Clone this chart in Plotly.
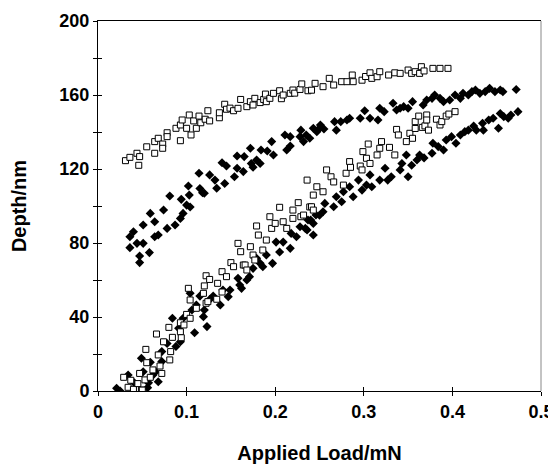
import plotly.graph_objects as go

# open squares - loading branch
sq_load_x = [0.029, 0.034, 0.037, 0.040, 0.045, 0.047, 0.049, 0.050, 0.053, 0.055, 0.054, 0.059, 0.062, 0.066,
             0.068, 0.070, 0.072, 0.074, 0.080, 0.081, 0.082, 0.084, 0.093, 0.093, 0.094, 0.097, 0.100, 0.102,
             0.104, 0.104, 0.111, 0.119, 0.120, 0.122, 0.122, 0.124, 0.126, 0.134, 0.135, 0.140, 0.140, 0.145,
             0.150, 0.153, 0.158, 0.161, 0.164, 0.166, 0.168, 0.172, 0.175, 0.177, 0.179, 0.181, 0.186, 0.190,
             0.194, 0.196, 0.200, 0.205, 0.209, 0.213, 0.220, 0.220, 0.226, 0.229, 0.232, 0.239, 0.241, 0.243,
             0.236, 0.247, 0.243, 0.254, 0.258, 0.263, 0.266, 0.277, 0.280, 0.284, 0.285, 0.296, 0.298, 0.299,
             0.303, 0.307, 0.305, 0.315, 0.318, 0.320, 0.329, 0.335, 0.337, 0.339, 0.348, 0.352, 0.355, 0.358,
             0.358, 0.362, 0.366, 0.369, 0.371, 0.371, 0.373, 0.382, 0.386, 0.388, 0.393, 0.396, 0.403]
sq_load_y = [7.4, 2, 5.8, 0.9, 4, 9.5, 0.5, 0.5, 6, 15.3, 22.5, 7.4, 11.4, 30.8,
             19.5, 13.5, 9.5, 26.6, 34.4, 16.8, 21.3, 29, 32, 36.9, 28.8, 35.7, 41.4, 55.5,
             49.2, 39.3, 44.7, 52.8, 56.8, 62.3, 47.4, 48.3, 60.3, 49.6, 58.2, 64.5, 53.5, 61.8,
             69.4, 67.2, 79.8, 75.3, 68.1, 68.1, 65.4, 78, 73.5, 70.8, 89.2, 84.3, 76.2, 81.6,
             94.2, 87.9, 90.6, 99.3, 91.5, 87.9, 97.8, 93.3, 101.8, 94.2, 95.1, 99.5, 99.6, 97.8,
             114, 110.4, 105.9, 107.7, 119.5, 115.8, 113, 111.3, 117.7, 124, 120.9, 121.6, 119.5, 129.4,
             125.8, 123, 133.5, 127.6, 131.2, 134.8, 131.7, 127.6, 141.4, 138.4, 134.8, 139.3, 136.6, 145.6,
             141.9, 148.6, 142.5, 143.3, 149.2, 146.5, 141, 146.9, 143.8, 145.6, 148.6, 149.7, 151]

# open squares - unloading branch
sq_unload_x = [0.031, 0.036, 0.044, 0.046, 0.047, 0.055, 0.064, 0.064, 0.068, 0.073, 0.073, 0.078, 0.078,
               0.088, 0.093, 0.093, 0.095, 0.100, 0.103, 0.105, 0.108, 0.111, 0.114, 0.116, 0.121, 0.124,
               0.126, 0.137, 0.137, 0.143, 0.145, 0.149, 0.153, 0.158, 0.161, 0.168, 0.172, 0.175, 0.177,
               0.183, 0.187, 0.189, 0.190, 0.194, 0.198, 0.205, 0.207, 0.209, 0.217, 0.220, 0.222, 0.228,
               0.230, 0.237, 0.241, 0.245, 0.254, 0.261, 0.266, 0.275, 0.281, 0.287, 0.288, 0.298, 0.302,
               0.307, 0.309, 0.315, 0.318, 0.328, 0.335, 0.341, 0.350, 0.354, 0.358, 0.363, 0.365, 0.368,
               0.378, 0.386, 0.395]
sq_unload_y = [124.5, 126.3, 128.5, 122, 126.7, 132, 128.5, 134.8, 136.6, 133.5, 131.2, 139.6, 137.5,
               142, 135.3, 143.8, 146.5, 142, 149.2, 138.4, 146, 142, 148.6, 145, 146.9, 151.5,
               146, 147.7, 150.4, 155, 152.3, 152.9, 151.5, 152.8, 157.6, 153.7, 156.4, 154.6, 158.2,
               155.9, 157.6, 160.5, 156.4, 158.2, 160.9, 162.3, 158, 160, 160.9, 162.7, 161, 163,
               166, 162.3, 162.6, 166.3, 164.5, 169, 165.4, 167.2, 167.2, 170.8, 167.2, 168, 170,
               172, 169, 169.9, 172.6, 170.8, 172, 171.7, 173.5, 171.7, 172.6, 171.7, 175.3, 173,
               174.4, 174.4, 174.4]

# filled diamonds - loading branch
dm_load_x = [0.021, 0.025, 0.034, 0.041, 0.051, 0.049, 0.056, 0.057, 0.059, 0.062, 0.068, 0.065, 0.072,
             0.072, 0.078, 0.084, 0.088, 0.091, 0.093, 0.096, 0.104, 0.106, 0.109, 0.111, 0.115, 0.119,
             0.120, 0.123, 0.126, 0.130, 0.138, 0.141, 0.147, 0.149, 0.158, 0.160, 0.162, 0.168, 0.171,
             0.175, 0.179, 0.183, 0.186, 0.190, 0.197, 0.201, 0.205, 0.209, 0.217, 0.218, 0.224, 0.228,
             0.236, 0.237, 0.243, 0.246, 0.234, 0.243, 0.240, 0.250, 0.254, 0.256, 0.266, 0.269, 0.275,
             0.277, 0.284, 0.288, 0.294, 0.298, 0.303, 0.307, 0.309, 0.318, 0.324, 0.327, 0.331, 0.341,
             0.343, 0.348, 0.350, 0.354, 0.360, 0.363, 0.368, 0.377, 0.378, 0.384, 0.390, 0.393, 0.399,
             0.404, 0.409, 0.414, 0.418, 0.424, 0.427, 0.434, 0.435, 0.441, 0.446, 0.452, 0.454, 0.458,
             0.463, 0.466, 0.474]
dm_load_y = [1.5, 0, 8.6, 4.4, 10.4, 17.7, 1.8, 4.4, 15.5, 8.6, 5, 10.4, 15.9,
             21.3, 25.7, 39.3, 24.1, 33.9, 26.6, 39.3, 52.8, 43.8, 31.5, 46.5, 51.3, 40.2,
             43.8, 34.8, 49.4, 51.3, 46.5, 54.6, 51, 54.6, 60.9, 57.3, 55.5, 60, 61.8,
             66.3, 71.7, 69, 67.2, 73.5, 69, 80.5, 75.1, 80.5, 77.1, 85.2, 83.4, 88.8,
             87, 92.4, 90.6, 95.1, 87.9, 84.3, 92.4, 95, 96.9, 101.4, 99.6, 105, 102.3,
             107.7, 110.4, 105, 114, 108.6, 111.3, 116.8, 110.4, 114, 120.4, 114, 115.8, 119.5,
             123, 127.6, 115.8, 122, 124.9, 127.6, 126, 128.5, 133.9, 132.1, 130.3, 135.7, 137.5,
             133.9, 138.4, 140.2, 141, 143.2, 141, 144.7, 141, 146.5, 147.4, 142, 150, 148.3,
             147.4, 149.2, 151]

# filled diamonds - unloading branch
dm_unload_x = [0.036, 0.040, 0.036, 0.044, 0.047, 0.047, 0.051, 0.051, 0.058, 0.059, 0.064, 0.064, 0.068,
               0.074, 0.078, 0.081, 0.087, 0.093, 0.094, 0.096, 0.100, 0.102, 0.103, 0.104, 0.114, 0.115,
               0.118, 0.120, 0.126, 0.132, 0.134, 0.140, 0.143, 0.145, 0.154, 0.157, 0.157, 0.164, 0.165,
               0.172, 0.173, 0.175, 0.179, 0.183, 0.184, 0.191, 0.196, 0.198, 0.211, 0.213, 0.217, 0.217,
               0.228, 0.229, 0.232, 0.239, 0.247, 0.250, 0.235, 0.243, 0.251, 0.255, 0.267, 0.269, 0.274,
               0.281, 0.284, 0.296, 0.301, 0.307, 0.316, 0.318, 0.323, 0.333, 0.337, 0.341, 0.345, 0.350,
               0.355, 0.367, 0.371, 0.377, 0.380, 0.386, 0.390, 0.397, 0.403, 0.409, 0.412, 0.418, 0.422,
               0.426, 0.431, 0.437, 0.442, 0.448, 0.454, 0.457, 0.472]
dm_unload_y = [83.4, 86.1, 77.5, 79.8, 73, 69.4, 89.7, 79.8, 74.8, 96, 91.5, 83.4, 84.3,
               97.8, 87.9, 105.4, 89.7, 93.3, 103.6, 96, 100.5, 110.8, 105.9, 99.5, 117.7, 109.5,
               107.2, 106.9, 116.8, 114, 109.6, 123.4, 112.2, 121.6, 115.8, 120.4, 127, 118.6, 126.7,
               131.2, 123, 121, 124.9, 123, 130.3, 129.7, 134.8, 127.6, 138.4, 130.3, 137.5, 132.4,
               137.5, 141, 134.8, 136.6, 140.2, 142, 138.4, 142, 143.8, 141.6, 145.6, 141, 145.6,
               146.5, 147.4, 147.4, 151.5, 147.4, 146.5, 152.8, 151, 155.5, 151.9, 152.8, 153.7, 152.8,
               156.4, 154.6, 157.3, 158.2, 160, 158.2, 156.4, 157.3, 160, 158.2, 160.9, 160, 161.8,
               162.7, 160.9, 161.8, 163.6, 161.8, 162.7, 161.8, 163]

x_ticks = [0, 0.1, 0.2, 0.3, 0.4, 0.5]
y_ticks = [0, 20, 40, 60, 80, 100, 120, 140, 160, 180, 200]
y_labels = ["0", "", "40", "", "80", "", "120", "", "160", "", "200"]

FONT = "Liberation Sans, Arial, sans-serif"

fig = go.Figure()

fig.add_trace(go.Scatter(
    x=dm_load_x + dm_unload_x,
    y=dm_load_y + dm_unload_y,
    mode='markers',
    marker=dict(symbol='diamond', size=7, color='black', line=dict(width=0)),
    showlegend=False
))

fig.add_trace(go.Scatter(
    x=sq_load_x + sq_unload_x,
    y=sq_load_y + sq_unload_y,
    mode='markers',
    marker=dict(symbol='square', size=6, color='white', line=dict(color='black', width=1)),
    showlegend=False
))

# empty trace so the overlay axes (inner half of the cross ticks) get drawn
fig.add_trace(go.Scatter(x=[], y=[], xaxis='x2', yaxis='y2', showlegend=False))

axis_common = dict(ticks='outside', ticklen=4, tickwidth=1, tickcolor='black', automargin=False,
                   showgrid=False, zeroline=False, showline=True, linecolor='black', linewidth=1,
                   tickfont=dict(family=FONT, size=18, color='black', weight='bold'))

# page body adds an 8px offset, so the figure is 8px smaller than the window
fig.update_layout(
    width=548, height=456,
    margin=dict(l=90, r=15, t=13, b=73),
    plot_bgcolor='white',
    paper_bgcolor='white',
    xaxis=dict(range=[0, 0.5], tickmode='array', tickvals=x_ticks, ticktext=[str(v) for v in x_ticks],
               mirror=True, ticklabelstandoff=0,
               title=dict(text='Applied Load/mN', standoff=26,
                          font=dict(family=FONT, size=20, color='black', weight='bold')),
               **axis_common),
    yaxis=dict(range=[0, 200], tickmode='array', tickvals=y_ticks, ticktext=y_labels,
               ticklabelstandoff=0,
               title=dict(text='Depth/nm', standoff=36,
                          font=dict(family=FONT, size=20, color='black', weight='bold')),
               **axis_common),
    xaxis2=dict(range=[0, 0.5], overlaying='x', tickmode='array', tickvals=x_ticks, ticks='inside',
                ticklen=4, tickcolor='black', showticklabels=False, showgrid=False, zeroline=False,
                showline=False, automargin=False),
    yaxis2=dict(range=[0, 200], overlaying='y', tickmode='array', tickvals=y_ticks, ticks='inside',
                ticklen=4, tickcolor='black', showticklabels=False, showgrid=False, zeroline=False,
                showline=False, automargin=False),
    shapes=[dict(type='line', xref='paper', yref='paper', x0=1, x1=1, y0=0, y1=1,
                 line=dict(color='#888888', width=1))]
)

fig.write_html("out.html")
